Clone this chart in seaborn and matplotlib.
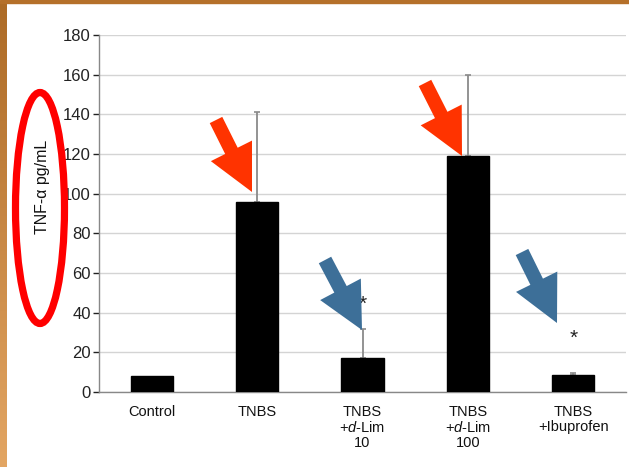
import numpy as np
import pandas as pd
import matplotlib
matplotlib.use("Agg")
import matplotlib.pyplot as plt
from matplotlib.patches import FancyArrow, Ellipse, Rectangle
import seaborn as sns

# Group labels, means and upper error (SD) of TNF-alpha
groups = ["Control", "TNBS", "TNBS d-Lim 10", "TNBS d-Lim 100", "TNBS Ibuprofen"]
tick_labels = ["Control", "TNBS", "TNBS\n+$\\mathit{d}$-Lim\n10",
               "TNBS\n+$\\mathit{d}$-Lim\n100", "TNBS\n+Ibuprofen"]
tnf_mean = [8, 96, 17, 119, 8.5]
tnf_err = [0, 45, 15, 41, 1]
star_y = [None, None, 44, None, 27]

sns.set_theme(style="white")
plt.rcParams["font.family"] = ["Liberation Sans", "DejaVu Sans"]
plt.rcParams["mathtext.fontset"] = "custom"
plt.rcParams["mathtext.it"] = "Liberation Sans:italic"
plt.rcParams["mathtext.rm"] = "Liberation Sans"

fig = plt.figure(figsize=(6.29, 4.67), dpi=100)
fig.patch.set_facecolor("white")
ax = fig.add_axes([99 / 629, 75 / 467, 527 / 629, 357 / 467])

df = pd.DataFrame({"group": groups, "tnf": tnf_mean})
sns.barplot(data=df, x="group", y="tnf", color="black", width=0.4,
            saturation=1, ax=ax, zorder=3)
for p in ax.patches:
    p.set_edgecolor("black")

xs = np.arange(len(groups))
has_err = np.array(tnf_err) > 0
ax.errorbar(xs[has_err], np.array(tnf_mean)[has_err],
            yerr=[np.zeros(has_err.sum()), np.array(tnf_err)[has_err]], fmt="none",
            ecolor="#8a8a8a", elinewidth=1.3, capsize=2.5, capthick=1.2, zorder=2)

for x, s in zip(xs, star_y):
    if s is not None:
        ax.text(x, s, "*", ha="center", va="center", fontsize=15, color="#222222", zorder=4)

ax.set_xlim(-0.5, len(groups) - 0.5)
ax.set_ylim(0, 180)
ax.set_yticks(np.arange(0, 181, 20))
ax.tick_params(axis="y", labelsize=12, colors="#222222", length=4, width=1,
               direction="out", left=True, pad=2)
for t in ax.get_yticklines():
    t.set_color("#888888")
ax.set_xticks(xs)
ax.set_xticklabels(tick_labels, fontsize=10.5, color="#111111", linespacing=1.12)
ax.tick_params(axis="x", length=0, pad=9)
ax.grid(axis="y", color="#d4d4d4", linewidth=1, zorder=0)
ax.set_axisbelow(True)
for side in ["top", "right"]:
    ax.spines[side].set_visible(False)
for side in ["left", "bottom"]:
    ax.spines[side].set_color("#888888")
    ax.spines[side].set_linewidth(1)
ax.set_xlabel("")
ax.set_ylabel("")

# Vertical axis title placed in figure pixels
fig.text(42 / 629, 1 - 187 / 467, "TNF-α pg/mL", rotation=90, ha="center", va="center",
         fontsize=11.5, color="#111111")

px = fig.dpi_scale_trans
H = 4.67


def P(x, y):
    return x / 100, H - y / 100


# Red ring around the axis title
cx, cy = P(40, 208)
fig.patches.append(Ellipse((cx, cy), 0.49, 2.31, transform=px, fill=False,
                           edgecolor="#ff0000", linewidth=5.2, zorder=10))

# Block arrows
arrows = [((216, 120), (252, 192), "#ff3300"),
          ((425, 83), (462, 156), "#ff3300"),
          ((325, 260), (362, 330), "#3d6f98"),
          ((522, 252), (557, 323), "#3d6f98")]
for (x0, y0), (x1, y1), c in arrows:
    a0 = P(x0, y0)
    a1 = P(x1, y1)
    fig.patches.append(FancyArrow(a0[0], a0[1], a1[0] - a0[0], a1[1] - a0[1],
                                  width=0.14, head_width=0.46, head_length=0.46,
                                  length_includes_head=True, transform=px,
                                  color=c, linewidth=0, zorder=10))

# Slide frame: top band and shaded left strip
fig.patches.append(Rectangle((0, 1 - 3 / 467), 1, 3 / 467, transform=fig.transFigure,
                             color="#b5702a", zorder=11))
grad = np.linspace(0, 1, 256).reshape(-1, 1)
top_c = np.array([0.68, 0.42, 0.15])
bot_c = np.array([0.89, 0.65, 0.39])
img = top_c[None, None, :] * (1 - grad[..., None]) + bot_c[None, None, :] * grad[..., None]
strip = fig.add_axes([0, 0, 7 / 629, 1 - 3 / 467])
strip.imshow(img, aspect="auto", extent=[0, 1, 0, 1])
strip.axis("off")

fig.savefig("out.png", dpi=100)
